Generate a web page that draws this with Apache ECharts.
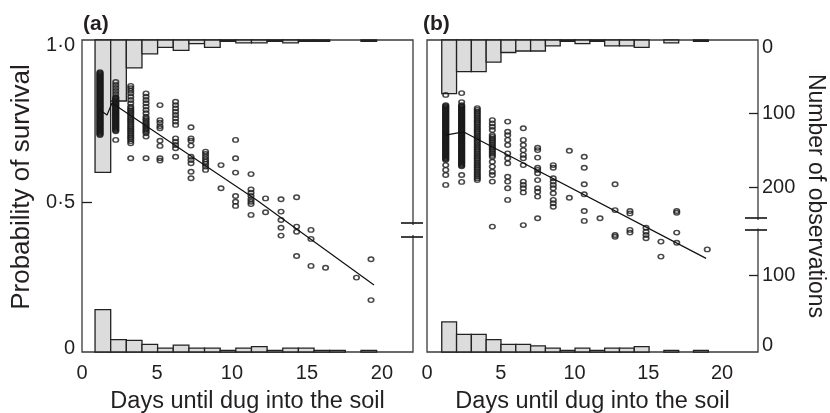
<!DOCTYPE html>
<html>
<head>
<meta charset="utf-8">
<script src="https://cdn.jsdelivr.net/npm/echarts@6.0.0/dist/echarts.min.js"></script>
<style>
  html, body { margin: 0; background: #fff; }
  #chart { width: 830px; height: 413px; }
</style>
</head>
<body>
<div id="chart"></div>
<script>
// ---- data ----
// panel (a): x position of each column of points (days) and the survival values in it
var daysA = [1.2, 2.25, 3.25, 4.27, 5.2, 6.24, 7.27, 8.24, 9.27, 10.24, 11.27, 12.24, 13.27, 14.31, 15.27, 16.24, 18.3, 19.27];
var survA = [
  [0.933, 0.930, 0.927, 0.924, 0.921, 0.918, 0.915, 0.912, 0.909, 0.906, 0.903, 0.900, 0.897, 0.894, 0.891, 0.888, 0.885, 0.882, 0.879, 0.876, 0.873, 0.870, 0.867, 0.864, 0.861, 0.858, 0.855, 0.852, 0.849, 0.846, 0.843, 0.840, 0.837, 0.834, 0.831, 0.828, 0.825, 0.822, 0.819, 0.816, 0.813, 0.810, 0.807, 0.804, 0.801, 0.798, 0.795, 0.792, 0.789, 0.786, 0.783, 0.780, 0.777, 0.774, 0.771, 0.768, 0.765, 0.762, 0.759, 0.756, 0.753, 0.750, 0.747, 0.744, 0.741, 0.738, 0.735, 0.732, 0.729, 0.726, 0.723],
  [0.9, 0.89, 0.88, 0.87, 0.86, 0.850, 0.847, 0.844, 0.841, 0.838, 0.835, 0.832, 0.829, 0.826, 0.823, 0.820, 0.817, 0.814, 0.811, 0.808, 0.805, 0.802, 0.799, 0.796, 0.793, 0.790, 0.787, 0.784, 0.781, 0.778, 0.775, 0.772, 0.769, 0.766, 0.763, 0.760, 0.757, 0.754, 0.751, 0.748, 0.745, 0.742, 0.739, 0.736, 0.707],
  [0.887, 0.879, 0.871, 0.862, 0.851, 0.84, 0.829, 0.818, 0.812, 0.806, 0.8, 0.794, 0.788, 0.782, 0.776, 0.77, 0.764, 0.758, 0.752, 0.746, 0.74, 0.734, 0.728, 0.722, 0.716, 0.71, 0.703, 0.696, 0.646],
  [0.862, 0.851, 0.84, 0.829, 0.818, 0.807, 0.796, 0.784, 0.778, 0.773, 0.767, 0.762, 0.756, 0.751, 0.745, 0.74, 0.735, 0.729, 0.718, 0.646],
  [0.823, 0.773, 0.764, 0.753, 0.746, 0.704, 0.687, 0.646, 0.638],
  [0.834, 0.823, 0.812, 0.801, 0.79, 0.779, 0.768, 0.757, 0.712, 0.701, 0.69, 0.679, 0.651],
  [0.749, 0.712, 0.704, 0.688, 0.651, 0.64, 0.629, 0.601, 0.579],
  [0.668, 0.66, 0.651, 0.642, 0.634, 0.627, 0.618, 0.607],
  [0.623, 0.546],
  [0.707, 0.646, 0.598, 0.52, 0.501, 0.487],
  [0.593, 0.542, 0.531, 0.52, 0.509, 0.501, 0.493, 0.457],
  [0.512, 0.466],
  [0.509, 0.468, 0.44, 0.414, 0.388],
  [0.516, 0.418, 0.401, 0.32],
  [0.407, 0.377, 0.287],
  [0.281],
  [0.248],
  [0.309, 0.173]
];
var lineDaysA = [1.2, 1.67, 2.0, 2.42, 11.64, 19.47];
var lineProbA = [0.807, 0.79, 0.83, 0.816, 0.507, 0.223];

// panel (b)
var daysB = [1.27, 2.35, 3.41, 4.43, 5.47, 6.53, 7.5, 8.56, 9.65, 10.66, 11.73, 12.75, 13.76, 14.85, 15.86, 16.93, 19.0];
var survB = [
  [0.857, 0.823, 0.820, 0.817, 0.814, 0.811, 0.808, 0.805, 0.802, 0.799, 0.796, 0.793, 0.790, 0.787, 0.784, 0.781, 0.778, 0.775, 0.772, 0.769, 0.766, 0.763, 0.760, 0.757, 0.754, 0.751, 0.748, 0.745, 0.742, 0.739, 0.736, 0.733, 0.730, 0.727, 0.724, 0.721, 0.718, 0.715, 0.712, 0.709, 0.706, 0.703, 0.700, 0.697, 0.694, 0.691, 0.688, 0.685, 0.682, 0.679, 0.676, 0.673, 0.670, 0.667, 0.664, 0.661, 0.658, 0.655, 0.652, 0.649, 0.646, 0.643, 0.640, 0.623, 0.607, 0.59, 0.557],
  [0.863, 0.833, 0.823, 0.820, 0.817, 0.814, 0.811, 0.808, 0.805, 0.802, 0.799, 0.796, 0.793, 0.790, 0.787, 0.784, 0.781, 0.778, 0.775, 0.772, 0.769, 0.766, 0.763, 0.760, 0.757, 0.754, 0.751, 0.748, 0.745, 0.742, 0.739, 0.736, 0.733, 0.730, 0.727, 0.724, 0.721, 0.718, 0.715, 0.712, 0.709, 0.706, 0.703, 0.700, 0.697, 0.694, 0.691, 0.688, 0.685, 0.682, 0.679, 0.676, 0.673, 0.670, 0.667, 0.664, 0.661, 0.658, 0.655, 0.652, 0.649, 0.646, 0.643, 0.640, 0.637, 0.634, 0.631, 0.628, 0.625, 0.622, 0.619, 0.59, 0.567],
  [0.813, 0.807, 0.801, 0.795, 0.789, 0.783, 0.777, 0.771, 0.765, 0.759, 0.753, 0.747, 0.741, 0.735, 0.729, 0.723, 0.717, 0.711, 0.705, 0.699, 0.693, 0.687, 0.681, 0.675, 0.669, 0.663, 0.657, 0.651, 0.645, 0.639, 0.633, 0.627, 0.621, 0.615, 0.609, 0.603, 0.597, 0.591, 0.585, 0.579, 0.573],
  [0.773, 0.762, 0.751, 0.74, 0.723, 0.717, 0.711, 0.705, 0.699, 0.693, 0.687, 0.681, 0.675, 0.669, 0.663, 0.657, 0.651, 0.634, 0.618, 0.601, 0.59, 0.568, 0.418],
  [0.768, 0.734, 0.723, 0.707, 0.69, 0.662, 0.646, 0.629, 0.584, 0.568, 0.546, 0.507],
  [0.746, 0.707, 0.69, 0.673, 0.657, 0.646, 0.623, 0.568, 0.557, 0.546, 0.532, 0.423],
  [0.681, 0.673, 0.648, 0.614, 0.607, 0.596, 0.573, 0.546, 0.534, 0.518, 0.446],
  [0.623, 0.614, 0.579, 0.568, 0.557, 0.546, 0.529, 0.507, 0.496, 0.484],
  [0.671, 0.514],
  [0.651, 0.614, 0.559, 0.526, 0.47, 0.437],
  [0.446],
  [0.559, 0.473, 0.39, 0.384],
  [0.47, 0.462, 0.407, 0.398],
  [0.414, 0.401, 0.39, 0.379],
  [0.368, 0.318],
  [0.47, 0.464, 0.398, 0.364],
  [0.342]
];
var lineDaysB = [1.27, 2.46, 18.92];
var lineProbB = [0.723, 0.734, 0.312];

// histograms: first bin edge and bin width (days), counts per bin
var binStartA = 0.87, binWidthA = 1.043;
var topCountsA = [180, 83, 38, 19, 10, 14, 5, 10, 2, 4, 4, 2, 4, 2, 2, 0, 0, 2];
var bottomCountsA = [55, 16, 15, 10, 5, 9, 5, 5, 2, 5, 7, 2, 5, 5, 2, 2, 0, 2];
var binStartB = 1.0, binWidthB = 1.004;
var topCountsB = [73, 43, 43, 30, 17, 15, 15, 8, 2, 5, 2, 8, 8, 10, 0, 4, 0, 2];
var bottomCountsB = [39, 23, 23, 16, 10, 10, 8, 5, 2, 5, 2, 5, 5, 7, 0, 2, 0, 2];

// tick labels
var dayTicks = [0, 5, 10, 15, 20];
var probTickValues = [0, 0.5, 1];
var probTickLabels = ['0', '0·5', '1·0'];
var topCountTicks = [0, 100, 200];
var bottomCountTicks = [0, 100];

// ---- layout ----
var FONT = '"Liberation Sans", Arial, Helvetica, sans-serif';
var INK = '#231f20';
var TOP = 40, W = 331, H = 312;
var LEFT_A = 82, LEFT_B = 427;

function toPoints(days, surv) {
  var out = [];
  days.forEach(function (d, i) {
    surv[i].forEach(function (p) { out.push([d, p]); });
  });
  return out;
}
function toLine(days, probs) {
  return days.map(function (d, i) { return [d, probs[i]]; });
}
function toBins(start, width, counts) {
  var out = [];
  counts.forEach(function (c, i) {
    if (c > 0) out.push([start + i * width, start + (i + 1) * width, c]);
  });
  return out;
}
function renderBin(params, api) {
  var a = api.coord([api.value(0), 0]);
  var b = api.coord([api.value(1), api.value(2)]);
  return {
    type: 'rect',
    shape: { x: a[0], y: Math.min(a[1], b[1]), width: b[0] - a[0], height: Math.abs(b[1] - a[1]) },
    style: { fill: '#dcdcdc', stroke: '#222', lineWidth: 1.3 }
  };
}

var labelText = { color: INK, fontFamily: FONT, fontSize: 20 };
var rich = {
  n: { color: INK, fontFamily: FONT, fontSize: 20 },
  up4: { color: INK, fontFamily: FONT, fontSize: 20, padding: [0, 0, 8, 0] },
  up7: { color: INK, fontFamily: FONT, fontSize: 20, padding: [0, 0, 14, 0] },
  dn7: { color: INK, fontFamily: FONT, fontSize: 20, padding: [14, 0, 0, 0] }
};
var dotStyle = { color: 'rgba(0,0,0,0)', borderColor: '#1a1a1a', borderWidth: 1.5 };

function dayAxis(gridIndex, max) {
  return {
    type: 'value', gridIndex: gridIndex, min: 0, max: max,
    axisLabel: Object.assign({ margin: 11, customValues: dayTicks }, labelText),
    axisTick: { show: false }, axisLine: { show: false }, splitLine: { show: false },
    name: 'Days until dug into the soil', nameLocation: 'middle', nameGap: 38,
    nameTextStyle: { color: INK, fontFamily: FONT, fontSize: 23.5 }
  };
}

var chart = echarts.init(document.getElementById('chart'));
chart.setOption({
  animation: false,
  backgroundColor: '#fff',
  title: [
    { text: '(a)', left: 78, top: 9, textStyle: { color: INK, fontFamily: FONT, fontSize: 21, fontWeight: 'bold' } },
    { text: '(b)', left: 418, top: 9, textStyle: { color: INK, fontFamily: FONT, fontSize: 21, fontWeight: 'bold' } }
  ],
  grid: [
    { left: LEFT_A, top: TOP, width: W, height: H, outerBoundsMode: 'none', show: true, borderColor: '#3a3a3a', borderWidth: 1.3 },
    { left: LEFT_B, top: TOP, width: W, height: H, outerBoundsMode: 'none', show: true, borderColor: '#3a3a3a', borderWidth: 1.3 }
  ],
  xAxis: [dayAxis(0, 22.07), dayAxis(1, 22.44)],
  yAxis: [
    { // 0: probability, panel a (shown)
      type: 'value', gridIndex: 0, min: 0, max: 1.04, position: 'left',
      axisLine: { show: false }, splitLine: { show: false },
      axisTick: { inside: true, length: 10, customValues: [0.5], lineStyle: { color: INK, width: 1.3 } },
      axisLabel: {
        margin: 7, customValues: probTickValues, rich: rich,
        formatter: function (v) {
          var s = probTickLabels[probTickValues.indexOf(v)];
          if (v === 0) return '{up4|' + s + '}';
          if (v === 1) return '{up7|' + s + '}';
          return '{n|' + s + '}';
        }
      },
      name: 'Probability of survival', nameLocation: 'middle', nameGap: 47,
      nameTextStyle: { color: INK, fontFamily: FONT, fontSize: 26, padding: [0, 0, 0, 18] }
    },
    { type: 'value', gridIndex: 0, min: 0, max: 424.5, inverse: true, show: false },
    { type: 'value', gridIndex: 0, min: 0, max: 405.2, show: false },
    { type: 'value', gridIndex: 1, min: 0, max: 1.04, show: false },
    { // 4: counts hanging from the top, panel b right side
      type: 'value', gridIndex: 1, min: 0, max: 424.5, inverse: true, position: 'right',
      axisLine: { show: false }, splitLine: { show: false },
      axisTick: { inside: true, length: 9, customValues: [100, 200], lineStyle: { color: INK, width: 1.3 } },
      axisLabel: {
        margin: 4, customValues: topCountTicks, rich: rich,
        formatter: function (v) { return v === 0 ? '{dn7|0}' : '{n|' + v + '}'; }
      },
      name: 'Number of observations', nameLocation: 'middle', nameGap: 46, nameRotate: -90,
      nameTextStyle: { color: INK, fontFamily: FONT, fontSize: 23 }
    },
    { // 5: counts rising from the bottom, panel b right side
      type: 'value', gridIndex: 1, min: 0, max: 405.2, position: 'right',
      axisLine: { show: false }, splitLine: { show: false },
      axisTick: { inside: true, length: 9, customValues: [100], lineStyle: { color: INK, width: 1.3 } },
      axisLabel: {
        margin: 4, customValues: bottomCountTicks, rich: rich,
        formatter: function (v) { return v === 0 ? '{up7|0}' : '{n|' + v + '}'; }
      }
    }
  ],
  series: [
    { type: 'custom', xAxisIndex: 0, yAxisIndex: 1, renderItem: renderBin, encode: { x: [0, 1], y: 2 }, data: toBins(binStartA, binWidthA, topCountsA), z: 1 },
    { type: 'custom', xAxisIndex: 0, yAxisIndex: 2, renderItem: renderBin, encode: { x: [0, 1], y: 2 }, data: toBins(binStartA, binWidthA, bottomCountsA), z: 1 },
    { type: 'custom', xAxisIndex: 1, yAxisIndex: 4, renderItem: renderBin, encode: { x: [0, 1], y: 2 }, data: toBins(binStartB, binWidthB, topCountsB), z: 1 },
    { type: 'custom', xAxisIndex: 1, yAxisIndex: 5, renderItem: renderBin, encode: { x: [0, 1], y: 2 }, data: toBins(binStartB, binWidthB, bottomCountsB), z: 1 },
    {
      type: 'scatter', xAxisIndex: 0, yAxisIndex: 0, data: toPoints(daysA, survA), z: 2,
      symbol: 'circle', symbolSize: [5.5, 4.5], itemStyle: dotStyle
    },
    {
      type: 'scatter', xAxisIndex: 1, yAxisIndex: 3, data: toPoints(daysB, survB), z: 2,
      symbol: 'circle', symbolSize: [5.5, 4.5], itemStyle: dotStyle
    },
    {
      type: 'line', xAxisIndex: 0, yAxisIndex: 0, data: toLine(lineDaysA, lineProbA), z: 3,
      symbol: 'none', lineStyle: { color: '#111', width: 1.2 }
    },
    {
      type: 'line', xAxisIndex: 1, yAxisIndex: 3, data: toLine(lineDaysB, lineProbB), z: 3,
      symbol: 'none', lineStyle: { color: '#111', width: 1.2 }
    }
  ],
  // axis breaks on the right-hand edges of both panels
  graphic: [
    { type: 'rect', z: 100, shape: { x: LEFT_A + W - 3, y: 225, width: 6, height: 10 }, style: { fill: '#fff' } },
    { type: 'line', z: 101, shape: { x1: LEFT_A + W - 12, y1: 223, x2: LEFT_A + W + 10, y2: 223 }, style: { stroke: INK, lineWidth: 1.7 } },
    { type: 'line', z: 101, shape: { x1: LEFT_A + W - 12, y1: 237, x2: LEFT_A + W + 10, y2: 237 }, style: { stroke: INK, lineWidth: 1.7 } },
    { type: 'rect', z: 100, shape: { x: LEFT_B + W - 3, y: 220, width: 6, height: 8.5 }, style: { fill: '#fff' } },
    { type: 'line', z: 101, shape: { x1: LEFT_B + W - 13, y1: 218, x2: LEFT_B + W + 9, y2: 218 }, style: { stroke: INK, lineWidth: 1.7 } },
    { type: 'line', z: 101, shape: { x1: LEFT_B + W - 13, y1: 230, x2: LEFT_B + W + 9, y2: 230 }, style: { stroke: INK, lineWidth: 1.7 } }
  ]
});
</script>
</body>
</html>
